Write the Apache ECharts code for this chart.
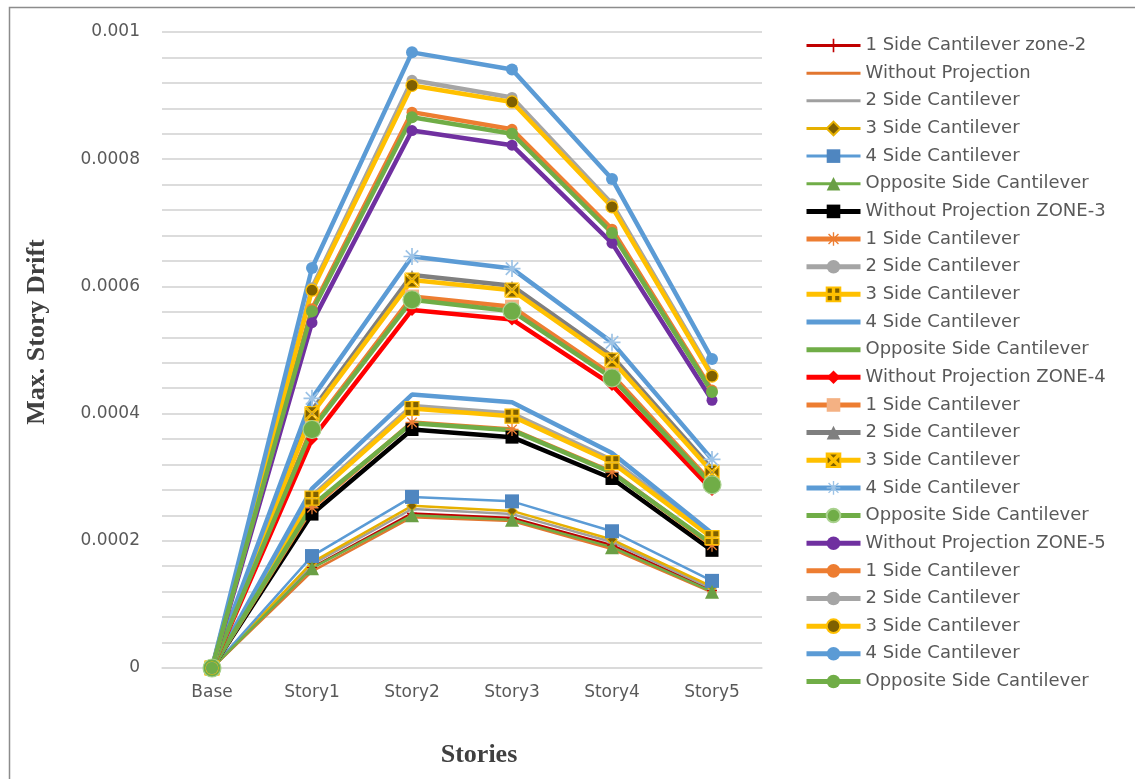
<!DOCTYPE html>
<html>
<head>
<meta charset="utf-8">
<title>Max. Story Drift</title>
<script src="https://cdn.jsdelivr.net/npm/echarts@6/dist/echarts.min.js"></script>
<style>
  html, body { margin: 0; padding: 0; background: #fff; }
  #chart { width: 1135px; height: 779px; }
</style>
</head>
<body>
<div id="chart"></div>
<script>
// Story levels along the horizontal axis
const stories = ['Base', 'Story1', 'Story2', 'Story3', 'Story4', 'Story5'];

// Legend labels, in drawing order
const labels = [
  '1 Side Cantilever zone-2', 'Without Projection', '2 Side Cantilever', '3 Side Cantilever', '4 Side Cantilever', 'Opposite Side Cantilever',
  'Without Projection ZONE-3', '1 Side Cantilever', '2 Side Cantilever', '3 Side Cantilever', '4 Side Cantilever', 'Opposite Side Cantilever',
  'Without Projection ZONE-4', '1 Side Cantilever', '2 Side Cantilever', '3 Side Cantilever', '4 Side Cantilever', 'Opposite Side Cantilever',
  'Without Projection ZONE-5', '1 Side Cantilever', '2 Side Cantilever', '3 Side Cantilever', '4 Side Cantilever', 'Opposite Side Cantilever'
];

// Zone 2 drifts
const z2_oneSide   = [0, 0.000158, 0.000243, 0.000236, 0.000193, 0.000122];
const z2_noProj    = [0, 0.000152, 0.000237, 0.000231, 0.000187, 0.000119];
const z2_twoSide   = [0, 0.000163, 0.000250, 0.000242, 0.000198, 0.000125];
const z2_threeSide = [0, 0.000166, 0.000255, 0.000247, 0.000202, 0.000128];
const z2_fourSide  = [0, 0.000176, 0.000269, 0.000262, 0.000215, 0.000137];
const z2_opposite  = [0, 0.000157, 0.000240, 0.000233, 0.000190, 0.000120];

// Zone 3 drifts
const z3_noProj    = [0, 0.000242, 0.000375, 0.000363, 0.000298, 0.000185];
const z3_oneSide   = [0, 0.000252, 0.000386, 0.000375, 0.000308, 0.000193];
const z3_twoSide   = [0, 0.000270, 0.000412, 0.000400, 0.000327, 0.000208];
const z3_threeSide = [0, 0.000267, 0.000408, 0.000396, 0.000323, 0.000205];
const z3_fourSide  = [0, 0.000282, 0.000430, 0.000418, 0.000338, 0.000212];
const z3_opposite  = [0, 0.000255, 0.000385, 0.000374, 0.000307, 0.000195];

// Zone 4 drifts
const z4_noProj    = [0, 0.000360, 0.000563, 0.000548, 0.000445, 0.000280];
const z4_oneSide   = [0, 0.000378, 0.000584, 0.000568, 0.000461, 0.000291];
const z4_twoSide   = [0, 0.000405, 0.000618, 0.000601, 0.000490, 0.000313];
const z4_threeSide = [0, 0.000400, 0.000610, 0.000594, 0.000484, 0.000308];
const z4_fourSide  = [0, 0.000424, 0.000647, 0.000628, 0.000512, 0.000328];
const z4_opposite  = [0, 0.000375, 0.000579, 0.000561, 0.000456, 0.000288];

// Zone 5 drifts
const z5_noProj    = [0, 0.000543, 0.000845, 0.000822, 0.000668, 0.000421];
const z5_oneSide   = [0, 0.000565, 0.000874, 0.000847, 0.000690, 0.000437];
const z5_twoSide   = [0, 0.000598, 0.000924, 0.000897, 0.000730, 0.000462];
const z5_threeSide = [0, 0.000594, 0.000916, 0.000890, 0.000725, 0.000459];
const z5_fourSide  = [0, 0.000629, 0.000968, 0.000941, 0.000769, 0.000486];
const z5_opposite  = [0, 0.000561, 0.000866, 0.000840, 0.000684, 0.000434];

const values = [
  z2_oneSide, z2_noProj, z2_twoSide, z2_threeSide, z2_fourSide, z2_opposite,
  z3_noProj, z3_oneSide, z3_twoSide, z3_threeSide, z3_fourSide, z3_opposite,
  z4_noProj, z4_oneSide, z4_twoSide, z4_threeSide, z4_fourSide, z4_opposite,
  z5_noProj, z5_oneSide, z5_twoSide, z5_threeSide, z5_fourSide, z5_opposite
];

// Marker shapes
const PLUS = 'path://M4.4,0h1.2v4.4h4.4v1.2h-4.4v4.4h-1.2v-4.4h-4.4v-1.2h4.4z';
const ASTER = 'path://M4.5,0h1v10h-1z M0,4.5h10v1h-10z M1,1.7L1.7,1L9,8.3L8.3,9z M8.3,1L9,1.7L1.7,9L1,8.3z';
const QUAD_PLUS = 'path://M0,0h5.4v5.4h-5.4z M6.6,0h5.4v5.4h-5.4z M0,6.6h5.4v5.4h-5.4z M6.6,6.6h5.4v5.4h-5.4z';
const QUAD_X = 'path://M1,0L11,0L6,5z M12,1L12,11L7,6z M11,12L1,12L6,7z M0,11L0,1L5,6z';

// Per-series styling: line colour, line width, symbol, size, fill, border; hide = no legend marker
const styles = [
  { c: '#C00000', w: 2.5, s: PLUS,      z: 10, f: '#C00000' },
  { c: '#E2762F', w: 2.5, s: 'rect',    z: [9, 3], f: '#E2762F', hide: true },
  { c: '#A0A0A0', w: 2.5, s: 'rect',    z: [9, 3], f: '#A0A0A0', hide: true },
  { c: '#E6B000', w: 2.5, s: 'diamond', z: 10, f: '#7F6000', b: '#E6B000' },
  { c: '#5B9BD5', w: 2.5, s: 'rect',    z: 14, f: '#4F86C0' },
  { c: '#70AD47', w: 2.5, s: 'triangle',z: 14, f: '#6A9F45' },

  { c: '#000000', w: 4.5, s: 'rect',    z: 13, f: '#000000' },
  { c: '#ED7D31', w: 4.5, s: ASTER,     z: 13, f: '#ED7D31' },
  { c: '#A5A5A5', w: 4.5, s: 'circle',  z: 10, f: '#A5A5A5' },
  { c: '#FFC000', w: 4.5, s: QUAD_PLUS, z: 14, f: '#7F6000', b: '#FFC000' },
  { c: '#5B9BD5', w: 4.5, s: 'none', hide: true },
  { c: '#70AD47', w: 4.5, s: 'none', hide: true },

  { c: '#FF0000', w: 4.5, s: 'diamond', z: 12, f: '#FF0000' },
  { c: '#ED7D31', w: 4.5, s: 'rect',    z: 14, f: '#F4B183' },
  { c: '#7F7F7F', w: 4.5, s: 'triangle',z: 10, f: '#7F7F7F' },
  { c: '#FFC000', w: 4.5, s: QUAD_X,    z: 14, f: '#7F6000', b: '#FFC000' },
  { c: '#5B9BD5', w: 4.5, s: ASTER,     z: 17, f: '#9DC3E6' },
  { c: '#70AD47', w: 4.5, s: 'circle',  z: 18, f: '#70AD47', b: '#A9D18E' },

  { c: '#7030A0', w: 4.5, s: 'circle',  z: 11, f: '#7030A0' },
  { c: '#ED7D31', w: 4.5, s: 'circle',  z: 11, f: '#ED7D31' },
  { c: '#A5A5A5', w: 4.5, s: 'circle',  z: 11, f: '#A5A5A5' },
  { c: '#FFC000', w: 4.5, s: 'circle',  z: 12, f: '#7F6000', b: '#FFC000' },
  { c: '#5B9BD5', w: 4.5, s: 'circle',  z: 12, f: '#5B9BD5' },
  { c: '#70AD47', w: 4.5, s: 'circle',  z: 12, f: '#70AD47' }
];

const zoneOf = i => 'Z' + (2 + Math.floor(i / 6)) + '|';

const series = values.map((vals, i) => {
  const st = styles[i];
  return {
    name: zoneOf(i) + labels[i],
    type: 'line',
    data: vals,
    symbol: st.s,
    symbolSize: st.z || 0,
    showSymbol: st.s !== 'none',
    lineStyle: { color: st.c, width: st.w },
    itemStyle: {
      color: st.f || st.c,
      borderColor: st.b || st.f || st.c,
      borderWidth: st.b ? 1.2 : 0
    },
    animation: false,
    silent: true
  };
});

// Legend swatches: thicker strokes than the plot lines, hidden marker where none is shown
const legendData = series.map((s, i) => {
  const item = { name: s.name, lineStyle: { width: styles[i].w > 3 ? 5 : 3 } };
  if (styles[i].hide) item.itemStyle = { opacity: 0 };
  return item;
});

const TICK = 0.00004;
const LABEL_STEP = 5;

const option = {
  backgroundColor: '#ffffff',
  animation: false,
  grid: { left: 162, right: 373, top: 32, bottom: 111, containLabel: false },
  legend: {
    orient: 'vertical',
    left: 804,
    top: 35.5,
    padding: 0,
    itemWidth: 54,
    itemHeight: 17,
    itemGap: 7.65,
    selectedMode: false,
    formatter: name => name.split('|')[1],
    textStyle: { fontFamily: 'DejaVu Sans', fontSize: 18, color: '#595959', lineHeight: 20 },
    data: legendData
  },
  xAxis: {
    type: 'category',
    data: stories,
    boundaryGap: true,
    name: 'Stories',
    nameLocation: 'middle',
    nameGap: 74,
    nameTextStyle: {
      fontFamily: 'Liberation Serif', fontWeight: 'bold', fontSize: 26, color: '#404040',
      padding: [0, 0, 0, 34]
    },
    axisLine: { show: true, lineStyle: { color: '#D9D9D9', width: 1.5 } },
    axisTick: { show: false },
    axisLabel: { fontFamily: 'DejaVu Sans', fontSize: 17, color: '#595959', margin: 16 }
  },
  yAxis: {
    type: 'value',
    min: 0,
    max: 0.001,
    interval: TICK,
    name: 'Max. Story Drift',
    nameLocation: 'middle',
    nameGap: 112,
    nameTextStyle: {
      fontFamily: 'Liberation Serif', fontWeight: 'bold', fontSize: 26, color: '#404040',
      padding: [0, 0, 0, 36]
    },
    axisLine: { show: false },
    axisTick: { show: false },
    splitLine: { lineStyle: { color: '#D0D0D0', width: 1.5 } },
    axisLabel: {
      fontFamily: 'DejaVu Sans', fontSize: 17, color: '#595959', margin: 22,
      formatter: v => {
        const k = Math.round(v / TICK);
        if (k % LABEL_STEP !== 0) return '';
        return String(+(k * TICK).toFixed(4));
      }
    }
  },
  graphic: [{
    type: 'rect',
    left: 7, top: 5,
    shape: { width: 1140, height: 790 },
    style: { fill: 'none', stroke: '#8C8C8C', lineWidth: 1.5 },
    silent: true
  }],
  series: series
};

const chart = echarts.init(document.getElementById('chart'), null, { renderer: 'canvas' });
chart.setOption(option);
</script>
</body>
</html>
